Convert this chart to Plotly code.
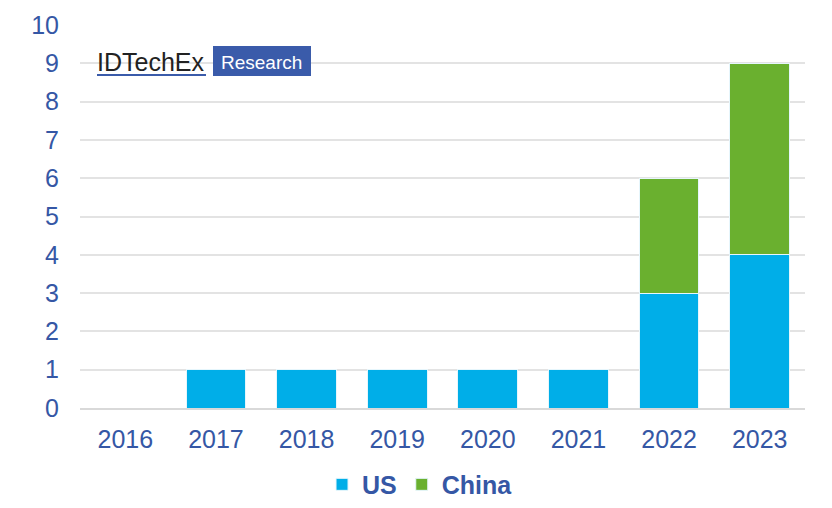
import plotly.graph_objects as go

years = ["2016", "2017", "2018", "2019", "2020", "2021", "2022", "2023"]
us = [0, 1, 1, 1, 1, 1, 3, 4]
china = [0, 0, 0, 0, 0, 0, 3, 5]
y_ticks = list(range(0, 11))

text_color = "#3557A5"
fig = go.Figure()
fig.add_trace(go.Bar(x=years, y=us, name="US", marker=dict(color="#00AEE8", line=dict(color="#E6F6FC", width=1))))
fig.add_trace(go.Bar(x=years, y=china, name="China", marker=dict(color="#6AB02F", line=dict(color="#E6F6FC", width=1))))

fig.update_layout(
    barmode="stack",
    bargap=0.34,
    width=832, height=508,
    margin=dict(l=72, r=35, t=17, b=108, autoexpand=False),
    plot_bgcolor="white", paper_bgcolor="white",
    font=dict(family="Liberation Sans, Arial, sans-serif", color=text_color),
    xaxis=dict(tickfont=dict(size=25, color=text_color), showline=True, linecolor="#D9D9D9", linewidth=2,
               ticks="", showgrid=False, ticklabelstandoff=8, automargin=False),
    yaxis=dict(range=[0, 10], tickvals=y_ticks, tickfont=dict(size=25, color=text_color),
               showgrid=True, gridcolor="#E3E3E3", gridwidth=1.5, zeroline=False, ticks="",
               ticklabelstandoff=20, automargin=False),
    legend=dict(orientation="h", x=0.469, xanchor="center", y=-0.20, yanchor="middle",
                font=dict(size=25, color=text_color, family="Liberation Sans, Arial, sans-serif", weight="bold"),
                itemwidth=30, traceorder="normal"),
    showlegend=True,
)

# Logo
fig.add_annotation(xref="paper", yref="paper", x=(95 - 80) / 725, y=(408 - 62) / 383, xanchor="left", yanchor="middle",
                   text="IDTechEx", showarrow=False, font=dict(size=25, color="#222222", family="Liberation Sans, Arial"))
fig.add_shape(type="line", xref="paper", yref="paper", x0=(97 - 80) / 725, x1=(206 - 80) / 725,
              y0=(408 - 75) / 383, y1=(408 - 75) / 383, line=dict(color="#3A5BAA", width=2))
fig.add_shape(type="rect", xref="paper", yref="paper", x0=(213 - 80) / 725, x1=(311 - 80) / 725,
              y0=(408 - 76) / 383, y1=(408 - 46) / 383, fillcolor="#3A5BAA", line=dict(width=0))
fig.add_annotation(xref="paper", yref="paper", x=(262 - 80) / 725, y=(408 - 62) / 383, xanchor="center", yanchor="middle",
                   text="Research", showarrow=False, font=dict(size=19, color="white", family="Liberation Sans, Arial"))

fig.write_html("out.html")
